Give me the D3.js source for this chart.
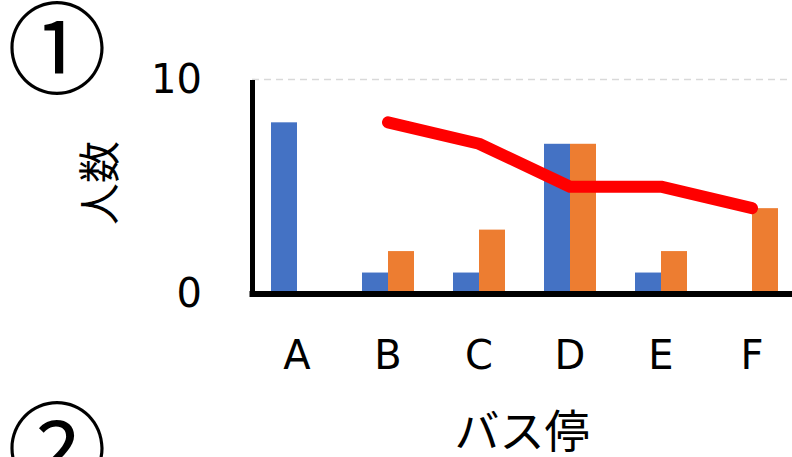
<!DOCTYPE html>
<html>
<head>
<meta charset="utf-8">
<script src="https://cdn.jsdelivr.net/npm/d3@7"></script>
<style>
  body { margin: 0; background: #fff; }
  svg { display: block; font-family: "Noto Sans CJK JP", "Noto Sans", sans-serif; }
</style>
</head>
<body>
<svg id="chart"></svg>
<script>
const categories = ["A", "B", "C", "D", "E", "F"];
const blueValues = [8, 1, 1, 7, 1, 0];
const orangeValues = [0, 2, 3, 7, 2, 4];
const lineValues = [null, 8, 7, 5, 5, 4];
const yTicks = [0, 10];

const width = 792;
const height = 457;

const svg = d3.select('#chart')
    .attr('width', width)
    .attr('height', height);

// scales
const x = d3.scaleBand()
    .domain(categories)
    .range([251.5, 797.5])
    .padding(0);

const xSub = d3.scaleBand()
    .domain(['blue', 'orange'])
    .range([0, x.bandwidth()])
    .paddingInner(0)
    .paddingOuter(0.75);

const y = d3.scaleLinear()
    .domain([0, 10])
    .range([294, 79.4]);

// gridline at top
svg.append('line')
    .attr('x1', 252)
    .attr('x2', width)
    .attr('y1', y(10))
    .attr('y2', y(10))
    .attr('stroke', '#d9d9d9')
    .attr('stroke-width', 1.5)
    .attr('stroke-dasharray', '7,5');

// bars
const rows = categories.map((c, i) => ({ cat: c, blue: blueValues[i], orange: orangeValues[i] }));

const groups = svg.selectAll('g.group')
    .data(rows)
    .enter().append('g')
    .attr('class', 'group')
    .attr('transform', d => `translate(${x(d.cat)},0)`);

groups.append('rect')
    .attr('x', xSub('blue'))
    .attr('width', xSub.bandwidth())
    .attr('y', d => y(d.blue))
    .attr('height', d => y(0) - y(d.blue))
    .attr('fill', '#4472c4');

groups.append('rect')
    .attr('x', xSub('orange'))
    .attr('width', xSub.bandwidth())
    .attr('y', d => y(d.orange))
    .attr('height', d => y(0) - y(d.orange))
    .attr('fill', '#ed7d31');

// red line
const line = d3.line()
    .defined(d => d.v !== null)
    .x(d => x(d.cat) + x.bandwidth() / 2)
    .y(d => y(d.v));

svg.append('path')
    .datum(categories.map((c, i) => ({ cat: c, v: lineValues[i] })))
    .attr('d', line)
    .attr('fill', 'none')
    .attr('stroke', '#ff0000')
    .attr('stroke-width', 12)
    .attr('stroke-linecap', 'round')
    .attr('stroke-linejoin', 'round');

// axes
const yAxis = svg.append('g')
    .attr('transform', 'translate(252,0)')
    .call(d3.axisLeft(y).tickValues(yTicks).tickSize(0).tickPadding(50));

const xAxis = svg.append('g')
    .attr('transform', 'translate(0,294)')
    .call(d3.axisBottom(x).tickSize(0).tickPadding(47));

yAxis.select('.domain').attr('stroke', '#000').attr('stroke-width', 5);
xAxis.select('.domain').attr('stroke', '#000').attr('stroke-width', 6)
    .attr('d', 'M249.5,0H797.5');

svg.selectAll('.tick text')
    .attr('font-family', '"DejaVu Sans", sans-serif')
    .attr('font-size', 40)
    .attr('fill', '#000');

// axis titles
svg.append('text')
    .attr('transform', 'translate(100,183) rotate(-90)')
    .attr('text-anchor', 'middle')
    .attr('dy', '0.35em')
    .attr('font-size', 42)
    .text('人数');

svg.append('text')
    .attr('x', 522)
    .attr('y', 432)
    .attr('text-anchor', 'middle')
    .attr('dy', '0.35em')
    .attr('font-size', 45)
    .text('バス停');

// panel numbers
svg.append('text')
    .attr('x', 57)
    .attr('y', 51)
    .attr('text-anchor', 'middle')
    .attr('dy', '0.35em')
    .attr('font-size', 100)
    .text('①');

svg.append('text')
    .attr('x', 57)
    .attr('y', 451)
    .attr('text-anchor', 'middle')
    .attr('dy', '0.35em')
    .attr('font-size', 100)
    .text('②');
</script>
</body>
</html>
